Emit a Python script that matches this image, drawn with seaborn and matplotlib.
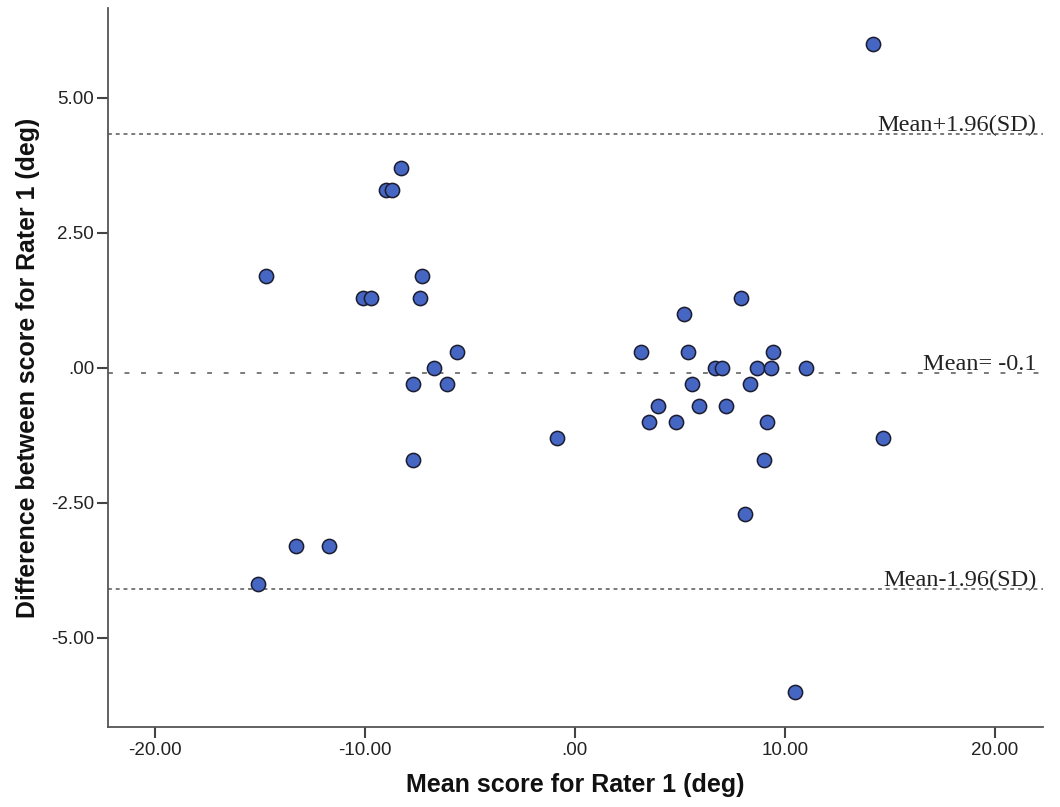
import matplotlib
matplotlib.use("Agg")
import matplotlib.pyplot as plt
import seaborn as sns
import pandas as pd

# Data
mean_score = [-8.3, -9.0, -8.7, -14.7, -7.3, -10.1, -9.7, -7.4, -5.6, -6.7,
              -7.7, -6.1, -7.7, -13.3, -11.7, -15.1,
              14.2, 7.9, 5.2, 3.15, 5.4, 9.45, 6.7, 7.0, 8.7, 9.35, 11.0,
              5.6, 8.35, 3.95, 5.9, 7.2, 3.55, 4.8, 9.15, -0.85, 14.7,
              9.0, 8.1, 10.5]
difference = [3.7, 3.3, 3.3, 1.7, 1.7, 1.3, 1.3, 1.3, 0.3, 0.0,
              -0.3, -0.3, -1.7, -3.3, -3.3, -4.0,
              6.0, 1.3, 1.0, 0.3, 0.3, 0.3, 0.0, 0.0, 0.0, 0.0, 0.0,
              -0.3, -0.3, -0.7, -0.7, -0.7, -1.0, -1.0, -1.0, -1.3, -1.3,
              -1.7, -2.7, -6.0]

line_values = [4.32, -0.1, -4.1]
line_labels = ["Mean+1.96(SD)", "Mean= -0.1", "Mean-1.96(SD)"]

x_ticks = [-20, -10, 0, 10, 20]
x_ticklabels = ["-20.00", "-10.00", ".00", "10.00", "20.00"]
y_ticks = [5, 2.5, 0, -2.5, -5]
y_ticklabels = ["5.00", "2.50", ".00", "-2.50", "-5.00"]

df = pd.DataFrame({"mean": mean_score, "diff": difference})

sns.set_style("ticks")
plt.rcParams["font.family"] = ["Liberation Sans", "DejaVu Sans"]

fig = plt.figure(figsize=(10.6, 8.07), dpi=100)
ax = fig.add_axes([0.1019, 0.0991, 0.882, 0.891])

dash_styles = [(2, 2), (2.5, 6), (2, 2)]
for val, lab, ds in zip(line_values, line_labels, dash_styles):
    ax.axhline(val, color="#7a7a7a", lw=1.4, dashes=ds, zorder=1)
    ax.annotate(lab, xy=(22.0, val), xytext=(0, 2.5), textcoords="offset points",
                ha="right", va="baseline", fontsize=17.5,
                family=["Liberation Serif", "DejaVu Serif"], color="#222222", zorder=3)

sns.scatterplot(data=df, x="mean", y="diff", ax=ax, s=105,
                color="#4566c2", edgecolor="#1c1c30", linewidth=1.1, zorder=4)

ax.set_xlim(-22.24, 22.3)
ax.set_ylim(-6.65, 6.66)
ax.set_xticks(x_ticks)
ax.set_xticklabels(x_ticklabels)
ax.set_yticks(y_ticks)
ax.set_yticklabels(y_ticklabels)

ax.tick_params(axis="both", direction="out", length=8, width=1.5, color="#444444",
               labelsize=13.5, labelcolor="#222222", pad=2)
ax.tick_params(axis="x", pad=3)
for sp in ["top", "right"]:
    ax.spines[sp].set_visible(False)
for sp in ["left", "bottom"]:
    ax.spines[sp].set_color("#555555")
    ax.spines[sp].set_linewidth(1.3)

ax.set_xlabel("Mean score for Rater 1 (deg)", fontsize=18, fontweight="bold",
              color="#111111", labelpad=10)
ax.set_ylabel("Difference between score for Rater 1 (deg)", fontsize=17.9,
              fontweight="bold", color="#111111", labelpad=8)

fig.savefig("out.png", dpi=100)
